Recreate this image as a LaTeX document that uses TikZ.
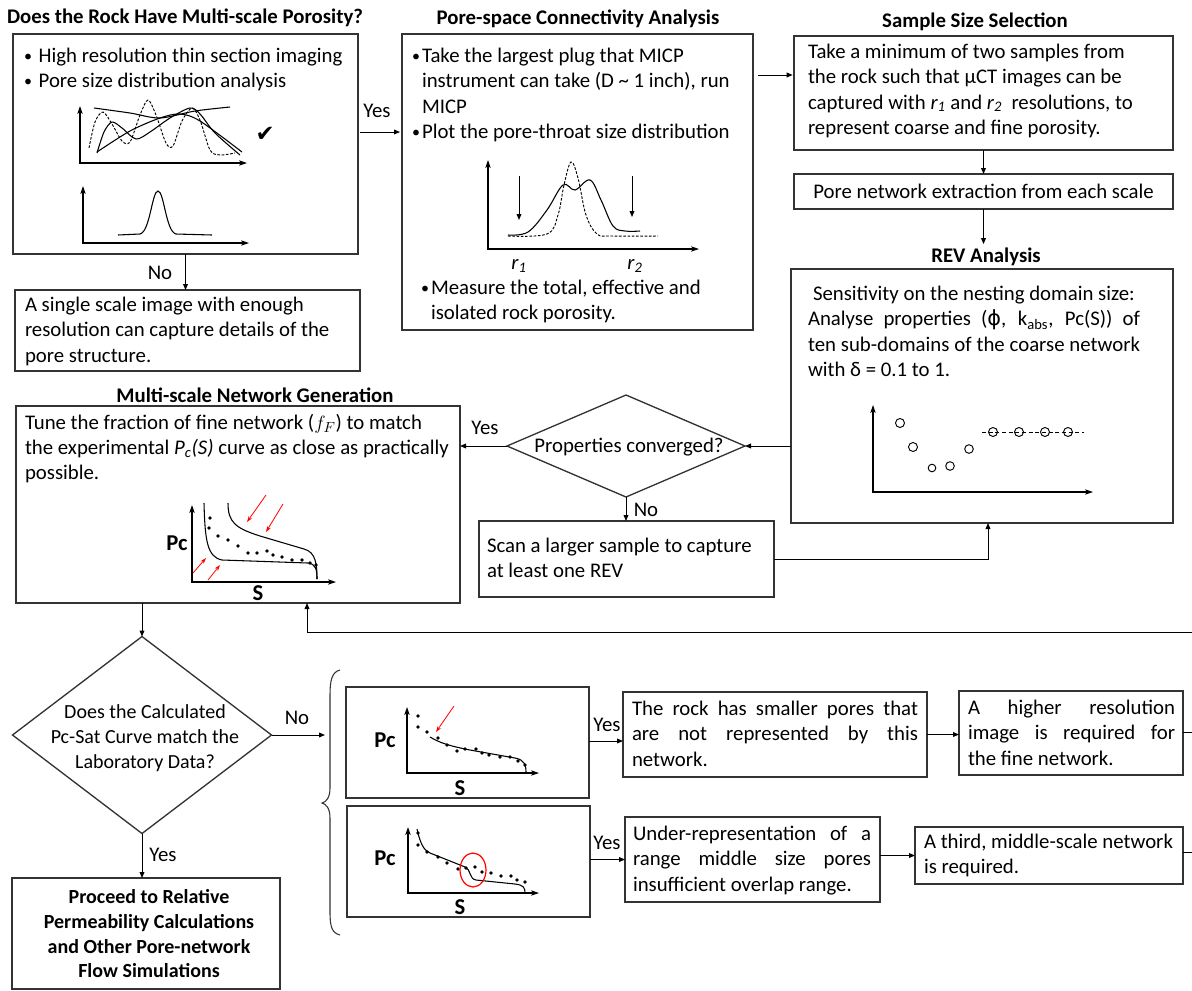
\documentclass[tikz,border=0pt]{standalone}
\usepackage{fontspec}
\setmainfont{Carlito}
\newfontfamily\symfont{DejaVu Sans}
\newcommand\fsz{\fontsize{15.6}{19}\selectfont}
\newcommand\bul[1]{\makebox[#1][l]{\raisebox{0.6pt}{\fontsize{12}{12}\selectfont\textbullet}}}
\usetikzlibrary{arrows.meta,shapes.geometric,fit}
\begin{document}
\begin{tikzpicture}[x=0.75pt,y=-0.75pt,
 every node/.style={inner sep=0pt,outer sep=0pt},
 box/.style={draw=black!80,line width=1pt,inner sep=0pt},
 txt/.style={font=\fsz,align=left,anchor=north west},
 ttl/.style={font=\fsz\bfseries},
 lbl/.style={font=\fsz},
 blbl/.style={font=\fontsize{17}{19}\selectfont\bfseries},
 arr/.style={draw=black,line width=0.75pt,-{Triangle[length=4.5pt,width=3.6pt]}},
 axes/.style={line width=0.8pt,{Stealth[length=6pt,width=4pt,inset=1.5pt]}-{Stealth[length=6pt,width=4pt,inset=1.5pt]}},
 crv/.style={line width=0.8pt},
 dcrv/.style={line width=0.7pt,dash pattern=on 2pt off 1.2pt},
 rarr/.style={red,line width=0.6pt,-{Stealth[length=4.5pt,width=3pt]}},
 dia/.style={diamond,draw=black!80,line width=1pt,inner sep=0pt},
]
\useasboundingbox (0,0) rectangle (1192,990);

% ---------- top left ----------
\node[ttl] (t1) at (185,18) {Does the Rock Have Multi-scale Porosity?};
\node[box,fit={(13,34) (358,254)}] (b1) {};
\node[txt] (b1t) at (24,48) {\bul{11pt}High resolution thin section imaging\\\bul{11pt}Pore size distribution analysis};
\draw[axes] (80,106) -- (80,163) -- (247,163);
\draw[dcrv] plot[smooth] coordinates {(89,148) (95,122) (103,112) (112,124) (122,141) (130,142) (140,115) (148,100) (156,115) (166,143) (173,146) (182,121) (192,108) (200,120) (210,150) (220,155) (235,153)};
\draw[crv] plot[smooth] coordinates {(97,153) (104,132) (112,122) (122,128) (136,139) (150,132) (170,118) (190,108) (200,114) (215,133) (240,155)};
\draw[crv] plot[smooth] coordinates {(94,108) (130,113) (160,118) (195,111) (230,107)};
\draw[crv] plot[smooth] coordinates {(97,152) (130,131) (160,118) (180,114) (200,121) (242,152)};
\node[font=\symfont\fontsize{17}{17}\selectfont] (chk) at (265,134) {✔};
\draw[axes] (83,186) -- (83,243) -- (249,243);
\draw[crv] (118,235) -- (140,234) .. controls (150,232) and (152,191) .. (158,191) .. controls (164,191) and (166,232) .. (176,234) -- (212,235);

\node[box,fit={(15,290) (360,371)}] (bs) {};
\node[txt] (bst) at (25,297) {A single scale image with enough\\resolution can capture details of the\\pore structure.};
\draw[arr] (b1.south) -- (b1.south |- bs.north);
\node[lbl] (no1) at (160,273) {No};

% ---------- pore-space ----------
\node[ttl] (t2) at (578,19) {Pore-space Connectivity Analysis};
\node[box,fit={(402,34) (753,330)}] (b2) {};
\node[txt] (b2t) at (412,48) {\bul{7.5pt}Take the largest plug that MICP\\\hspace*{7.5pt}instrument can take (D \textasciitilde\ 1 inch), run\\\hspace*{7.5pt}MICP\\\bul{7.5pt}Plot the pore-throat size distribution};
\draw[axes] (488,160) -- (488,249) -- (699,249);
\draw[arr] (519,176) -- (519,220);
\draw[arr] (632,176) -- (632,217);
\draw[crv] plot[smooth,tension=0.6] coordinates {(508,235) (528,232) (547,210) (563,185) (575,190) (590,180) (601,200) (613,226) (625,231) (640,231)};
\draw[dcrv] plot[smooth,tension=0.6] coordinates {(508,236) (547,234) (558,215) (564,185) (571,162) (578,178) (586,215) (597,234) (612,236) (658,236)};
\node[lbl] (r1) at (519,266) {\textit{r\textsubscript{1}}};
\node[lbl] (r2) at (635,266) {\textit{r\textsubscript{2}}};
\node[txt] (b2u) at (421,280) {\bul{7.5pt}Measure the total, effective and\\\hspace*{7.5pt}isolated rock porosity.};
\coordinate (y132) at (0,132);
\draw[arr] ([xshift=1.5pt]b1.east |- y132) -- ([xshift=-1.5pt]b2.west |- y132);
\node[lbl] (yes1) at (377,111) {Yes};

% ---------- sample size ----------
\node[ttl] (t3) at (975,22) {Sample Size Selection};
\node[box,fit={(794,36) (1173,150)}] (b3) {};
\node[txt] (b3t) at (808,44) {Take a minimum of two samples from\\the rock such that μCT images can be\\captured with \textit{r\textsubscript{1}} and \textit{r\textsubscript{2}}\ \ resolutions, to\\represent coarse and fine porosity.};
\coordinate (y75) at (0,75);
\draw[arr] ([xshift=4pt]b2.east |- y75) -- ([xshift=-1pt]b3.west |- y75);
\node[box,fit={(794,174) (1173,209)}] (b4) {};
\node[lbl] (b4t) at (b4.center) {Pore network extraction from each scale};
\draw[arr] (b3.south) -- (b3.south |- b4.north);

% ---------- REV ----------
\node[ttl] (t5) at (986,257) {REV Analysis};
\draw[arr] (b4.south) -- ([yshift=3pt]b4.south |- t5.north);
\node[box,fit={(791,269) (1173,523)}] (b5) {};
\node[txt] (b5t) at (808,286) {\hspace*{3.75pt}Sensitivity on the nesting domain size:\\\makebox[249pt][s]{Analyse properties ({\symfont ϕ}, k\textsubscript{abs}, Pc(S)) of}\\\makebox[249pt][s]{ten sub-domains of the coarse network}\\with δ = 0.1 to 1.};
\draw[axes] (873,405) -- (873,492) -- (1093,492);
\draw[line width=0.6pt,dash pattern=on 3pt off 2pt] (982,432) -- (1084,432);
\foreach \x/\y/\r in {900/423/4.5, 913/447/4.5, 932/468/3.8, 950/466/4.3, 969/449/4.3, 993/432/4.5, 1019/432/4.5, 1045/432/4.5, 1068/432/4.5}
  \draw[line width=0.7pt] (\x,\y) circle[radius=\r];

% ---------- properties converged ----------
\node[dia,minimum width=238*0.75pt,minimum height=102*0.75pt] (d1) at (626,446) {};
\node[lbl] (d1t) at (629,447) {Properties converged?};
\draw[arr] (b5.west |- d1.east) -- (d1.east);
\node[box,fit={(479,521) (774,597)}] (bscan) {};
\node[txt] (bscant) at (487,538) {Scan a larger sample to capture\\at least one REV};
\draw[arr] (d1.south) -- (d1.south |- bscan.north);
\node[lbl] (no2) at (646,510) {No};
\coordinate (x988) at (988,0);
\draw[arr] (bscan.east) -| (b5.south -| x988);

% ---------- multi-scale ----------
\node[ttl] (t6) at (255,395) {Multi-scale Network Generation};
\node[box,fit={(16,406) (460,603)}] (b6) {};
\node[txt] (b6t) at (25,414) {Tune the fraction of fine network ($f_F$) to match\\the experimental \textit{P\textsubscript{c}(S)} curve as close as practically\\possible.};
\draw[arr] (d1.west) -- (b6.east |- d1.west);
\node[lbl] (yes2) at (485,428) {Yes};
\draw[axes] (192,505) -- (192,582) -- (336,582);
\node[blbl] (pc0) at (177,543) {Pc};
\node[blbl] (s0) at (258,593) {S};
\draw[crv] (204,503) .. controls (205,540) and (207,557) .. (222,560) -- (308,563) .. controls (316,564) and (317,570) .. (317,579);
\draw[crv] (228,503) .. controls (228,522) and (235,528) .. (260,536) -- (304,549) .. controls (316,552) and (317,565) .. (317,579);
\foreach \x/\y in {210/518, 209/528, 218/536, 228/540, 238/546, 248/553, 257/553, 267/551, 273/555, 282/557, 292/560, 302/560, 310/563, 316/565}
  \fill (\x,\y) circle[radius=1.9];
\draw[rarr] (266,495) -- (247,522);
\draw[rarr] (283,504) -- (266,532);
\draw[rarr] (193,573) -- (206,558);
\draw[rarr] (208,580) -- (220,565);
\coordinate (ret) at (1192,632);
\coordinate (x307) at (307,0);
\draw[arr] (ret) -| (b6.south -| x307);

% ---------- match diamond ----------
\node[dia,minimum width=259*0.75pt,minimum height=197*0.75pt] (d2) at (142,735) {};
\node[align=center,font=\fontsize{15}{19}\selectfont] (d2t) at (145,738) {Does the Calculated\\Pc-Sat Curve match the\\Laboratory Data?};
\draw[arr] (b6.south -| d2.north) -- (d2.north);
\node[box,fit={(12,878) (280,989)}] (bp) {};
\node[align=center,font=\fontsize{15}{18.5}\selectfont\bfseries] (bpt) at (149,934) {Proceed to Relative\\Permeability Calculations\\and Other Pore-network\\Flow Simulations};
\draw[arr] (d2.south) -- (d2.south |- bp.north);
\node[lbl] (yes3) at (163,855) {Yes};
\coordinate (brc) at (325,0);
\draw[arr] (d2.east) -- (brc |- d2.east);
\node[lbl] (no3) at (297,718) {No};
\draw[black!80,line width=0.8pt] (340,670) .. controls (332,672) and (330,680) .. (330,695) -- (330,788) .. controls (330,798) and (326,802) .. (322,803) .. controls (326,804) and (330,808) .. (330,818) -- (330,912) .. controls (330,927) and (332,933) .. (340,935);

% ---------- Pc boxes ----------
\node[box,fit={(346,687) (589,798)}] (pc1) {};
\draw[axes] (407,707) -- (407,773) -- (539,773);
\node[blbl] (pc1l) at (385,740) {Pc};
\node[blbl] (s1l) at (460,788) {S};
\draw[crv] (430,737) .. controls (440,743) and (450,746) .. (470,750) -- (515,758) .. controls (525,760) and (526,765) .. (526,773);
\foreach \x/\y in {418/716, 418/727, 427/732, 438/738, 447/745, 457/751, 465/749, 476/749, 482/753, 489/755, 500/757, 510/757, 518/761, 525/765}
  \fill (\x,\y) circle[radius=1.9];
\draw[rarr] (454,706) -- (436,732);

\node[box,fit={(347,806) (590,917)}] (pc2) {};
\draw[axes] (408,827) -- (408,893) -- (539,893);
\node[blbl] (pc2l) at (385,858) {Pc};
\node[blbl] (s2l) at (460,907) {S};
\draw[crv] (417,829) .. controls (420,842) and (423,850) .. (430,853) -- (465,867) .. controls (471,869) and (469,879) .. (476,880) -- (515,884) .. controls (524,885) and (525,888) .. (525,893);
\foreach \x/\y in {418/833, 418/845, 427/852, 438/857, 447/863, 458/869, 466/868, 475/867, 482/872, 491/873, 501/876, 511/876, 517/880, 525/882}
  \fill (\x,\y) circle[radius=1.9];
\draw[red,line width=0.9pt] (473,870) ellipse[x radius=13,y radius=17];

% ---------- right text boxes ----------
\node[box,fit={(623,692) (927,777)}] (ta) {};
\node[txt] (tat) at (632,701) {\makebox[214.5pt][s]{The rock has smaller pores that}\\\makebox[214.5pt][s]{are not represented by this}\\network.};
\coordinate (y741) at (0,741);
\draw[arr] (pc1.east |- y741) -- (ta.west |- y741);
\node[lbl] (yes4) at (607,725) {Yes};

\node[box,fit={(959,691) (1183,775)}] (tb) {};
\node[txt] (tbt) at (968,700) {\makebox[155.25pt][s]{A higher resolution}\\\makebox[155.25pt][s]{image is required for}\\the fine network.};
\draw[arr] (ta.east) -- (tb.west |- ta.east);
\coordinate (eb) at (1192,732);
\draw[line width=0.75pt] (tb.east |- eb) -- (eb);

\node[box,fit={(625,817) (880,902)}] (tc) {};
\node[txt] (tct) at (633,826) {\makebox[178.5pt][s]{Under-representation of a}\\\makebox[178.5pt][s]{range middle size pores}\\insufficient overlap range.};
\draw[arr] (pc2.east |- tc.west) -- (tc.west);
\node[lbl] (yes5) at (607,843) {Yes};

\node[box,fit={(915,827) (1183,884)}] (td) {};
\node[txt] (tdt) at (924,834) {A third, middle-scale network\\is required.};
\draw[arr] (tc.east |- td.west) -- (td.west);
\coordinate (ed) at (1192,852);
\draw[line width=0.75pt] (td.east |- ed) -- (ed);
\end{tikzpicture}
\end{document}
